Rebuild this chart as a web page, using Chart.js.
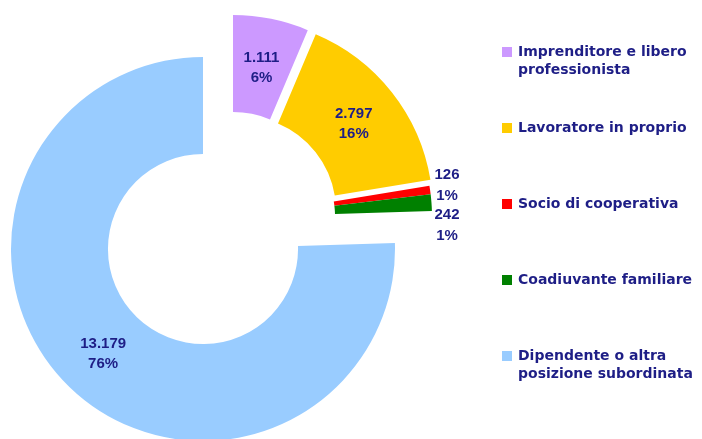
<!DOCTYPE html>
<html lang="it">
<head>
<meta charset="utf-8">
<title>Posizione professionale</title>
<script src="https://cdn.jsdelivr.net/npm/chart.js@4.4.1/dist/chart.umd.min.js"></script>
<style>
  html, body { margin: 0; padding: 0; background: #fff; }
  #grafico { display: block; }
</style>
</head>
<body>
<canvas id="grafico" width="702" height="439"></canvas>
<script>
// categorie (righe della legenda) e valori assoluti
const categorie = [
  ['Imprenditore e libero', 'professionista'],
  ['Lavoratore in proprio'],
  ['Socio di cooperativa'],
  ['Coadiuvante familiare'],
  ['Dipendente o altra', 'posizione subordinata']
];
const valori = [1111, 2797, 126, 242, 13179];
const colori = ['#cc99ff', '#ffcc00', '#ff0000', '#008000', '#99ccff'];

// spostamento delle fette staccate (px)
const spostamenti = [[30, -42], [38, -38], [37, -32], [37, -32], [0, 0]];
const coloreTesto = '#1e1e86';
const font = 'bold 15px "Liberation Sans", Arial, sans-serif';
const fontLegenda = 'bold 14px "DejaVu Sans", sans-serif';

const totale = valori.reduce((a, b) => a + b, 0);
const formatta = n => String(n).replace(/\B(?=(\d{3})+(?!\d))/g, '.');
const perc = n => Math.round(n / totale * 100) + '%';

// disegna le fette traslate invece del disegno standard
const esplodi = {
  id: 'esplodi',
  beforeDatasetDraw(chart, args) {
    const ctx = chart.ctx;
    args.meta.data.forEach((arc, i) => {
      const [dx, dy] = spostamenti[i];
      ctx.save();
      ctx.translate(dx, dy);
      arc.draw(ctx);
      ctx.restore();
    });
    return false;
  }
};

// etichette valore + percentuale
const etichette = {
  id: 'etichette',
  afterDatasetsDraw(chart) {
    const ctx = chart.ctx;
    const meta = chart.getDatasetMeta(0);
    ctx.save();
    ctx.font = font;
    ctx.fillStyle = coloreTesto;
    ctx.textAlign = 'center';
    ctx.textBaseline = 'middle';
    meta.data.forEach((arc, i) => {
      const p = arc.getProps(['x', 'y', 'startAngle', 'endAngle', 'innerRadius', 'outerRadius'], true);
      const [dx, dy] = spostamenti[i];
      const mid = (p.startAngle + p.endAngle) / 2;
      const righe = [formatta(valori[i]), perc(valori[i])];
      let x, y, passo = 20;
      if (i === 2 || i === 3) {
        // fette sottili: testo fuori, a destra
        x = p.x + dx + p.outerRadius + 15;
        y = p.y + dy + Math.sin(mid) * p.outerRadius + (i === 2 ? -5 : 23);
        passo = 21;
      } else {
        const r = (p.innerRadius + p.outerRadius) / 2;
        x = p.x + dx + Math.cos(mid) * r;
        y = p.y + dy + Math.sin(mid) * r + 2;
      }
      ctx.fillText(righe[0], x, y - passo / 2);
      ctx.fillText(righe[1], x, y + passo / 2);
    });
    ctx.restore();
  }
};

// legenda a destra
const legenda = {
  id: 'legenda',
  afterDraw(chart) {
    const ctx = chart.ctx;
    ctx.save();
    ctx.font = fontLegenda;
    ctx.textBaseline = 'middle';
    ctx.textAlign = 'left';
    chart.data.labels.forEach((righe, i) => {
      const y = 52 + 76 * i;
      ctx.fillStyle = colori[i];
      ctx.fillRect(502, y - 5, 10, 10);
      ctx.fillStyle = coloreTesto;
      righe.forEach((t, k) => ctx.fillText(t, 518, y + k * 18));
    });
    ctx.restore();
  }
};

const ctx = document.getElementById('grafico').getContext('2d');
new Chart(ctx, {
  type: 'doughnut',
  data: {
    labels: categorie,
    datasets: [{
      data: valori,
      backgroundColor: colori,
      borderWidth: 0
    }]
  },
  options: {
    responsive: false,
    animation: false,
    devicePixelRatio: 1,
    cutout: '49.5%',
    radius: 192,
    layout: { padding: { left: 11, right: 307, top: 59, bottom: 0 } },
    plugins: {
      legend: { display: false },
      tooltip: { enabled: false }
    }
  },
  plugins: [esplodi, etichette, legenda]
});
</script>
</body>
</html>
